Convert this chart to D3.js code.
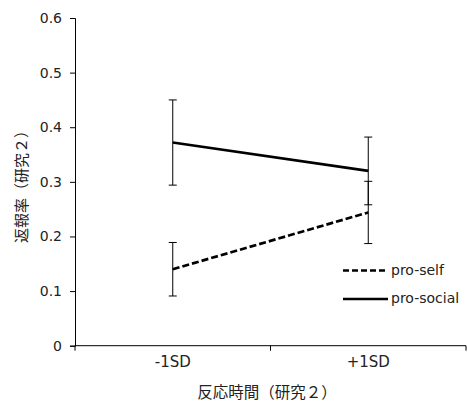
<!DOCTYPE html>
<html>
<head>
<meta charset="utf-8">
<script src="https://cdn.jsdelivr.net/npm/d3@7"></script>
<style>
body { margin: 0; background: #fff; }
text { font-family: "DejaVu Sans", "Liberation Sans", sans-serif; fill: #222; }
.jp { font-family: "Noto Sans CJK JP", sans-serif; }
</style>
</head>
<body>
<svg id="chart" width="467" height="405"></svg>
<script>
// data
var categories = ["-1SD", "+1SD"];
var series_names = ["pro-self", "pro-social"];
var pro_self = [0.140, 0.244];
var pro_self_err = [0.049, 0.057];
var pro_social = [0.372, 0.320];
var pro_social_err = [0.078, 0.062];
var y_ticks = [0, 0.1, 0.2, 0.3, 0.4, 0.5, 0.6];

var svg = d3.select("#chart");

// note: "top" is a reserved window property, so use plot_* names
var plot_left = 75, plot_right = 466, plot_top = 18, plot_bottom = 345.7;

var x = d3.scaleBand().domain(categories).range([plot_left, plot_right]);
var y = d3.scaleLinear().domain([0, 0.6]).range([plot_bottom, plot_top]);

var axis_g = svg.append("g");

// y axis
var y_axis = axis_g.append("g")
  .attr("transform", "translate(" + plot_left + ",0)")
  .call(d3.axisLeft(y).tickValues(y_ticks).tickSize(5).tickPadding(8)
        .tickFormat(function(d) { return d === 0 ? "0" : d3.format(".1f")(d); }));
y_axis.select(".domain").attr("stroke", "#000");
y_axis.selectAll("line").attr("stroke", "#000");
y_axis.selectAll("text").attr("font-size", 14).attr("fill", "#222")
  .attr("font-family", "DejaVu Sans, sans-serif");

// x axis: ticks on the category boundaries
var x_axis = axis_g.append("g")
  .attr("transform", "translate(0," + plot_bottom + ")")
  .call(d3.axisBottom(x).tickSize(0).tickPadding(11));
x_axis.select(".domain").attr("stroke", "#000").attr("d", "M" + plot_left + ",0H" + plot_right);
x_axis.selectAll("text").attr("font-size", 15).attr("fill", "#222")
  .attr("font-family", "DejaVu Sans, sans-serif");

axis_g.selectAll(".xb")
  .data([plot_left, plot_left + x.bandwidth(), plot_right])
  .enter().append("line")
  .attr("x1", function(d) { return d; })
  .attr("x2", function(d) { return d; })
  .attr("y1", plot_bottom)
  .attr("y2", plot_bottom + 5)
  .attr("stroke", "#000");

// axis titles
svg.append("text")
  .attr("class", "jp")
  .attr("transform", "translate(27,183) rotate(-90)")
  .attr("text-anchor", "middle")
  .attr("font-size", 15)
  .text("返報率（研究２）");

svg.append("text")
  .attr("class", "jp")
  .attr("x", 267)
  .attr("y", 398)
  .attr("text-anchor", "middle")
  .attr("font-size", 15.5)
  .text("反応時間（研究２）");

/*
* error bars and lines
*/
function draw_series(vals, errs, dash) {
  var pts = vals.map(function(v, i) {
    return {x: x(categories[i]) + x.bandwidth() / 2, v: v, e: errs[i]};
  });
  var g = svg.append("g");
  g.selectAll(".bar")
    .data(pts)
    .enter().append("line")
    .attr("x1", function(d) { return d.x; })
    .attr("x2", function(d) { return d.x; })
    .attr("y1", function(d) { return y(d.v + d.e); })
    .attr("y2", function(d) { return y(d.v - d.e); })
    .attr("stroke", "#000")
    .attr("stroke-width", 1);
  [1, -1].forEach(function(s) {
    g.selectAll(".cap" + s)
      .data(pts)
      .enter().append("line")
      .attr("x1", function(d) { return d.x - 4; })
      .attr("x2", function(d) { return d.x + 4; })
      .attr("y1", function(d) { return y(d.v + s * d.e); })
      .attr("y2", function(d) { return y(d.v + s * d.e); })
      .attr("stroke", "#000")
      .attr("stroke-width", 1);
  });
  g.append("path")
    .attr("d", d3.line().x(function(d) { return d.x; }).y(function(d) { return y(d.v); })(pts))
    .attr("fill", "none")
    .attr("stroke", "#000")
    .attr("stroke-width", 2.7)
    .attr("stroke-dasharray", dash);
}

draw_series(pro_self, pro_self_err, "7,3");
draw_series(pro_social, pro_social_err, null);

// legend
var legend = svg.append("g");
var dashes = ["6,3", null];
legend.selectAll("line")
  .data(series_names)
  .enter().append("line")
  .attr("x1", 343)
  .attr("x2", 388)
  .attr("y1", function(d, i) { return 270.5 + i * 28.5; })
  .attr("y2", function(d, i) { return 270.5 + i * 28.5; })
  .attr("stroke", "#000")
  .attr("stroke-width", 2.7)
  .attr("stroke-dasharray", function(d, i) { return dashes[i]; });
legend.selectAll("text")
  .data(series_names)
  .enter().append("text")
  .attr("x", 391)
  .attr("y", function(d, i) { return 274.5 + i * 28.5; })
  .attr("font-size", 14)
  .text(function(d) { return d; });
</script>
</body>
</html>
